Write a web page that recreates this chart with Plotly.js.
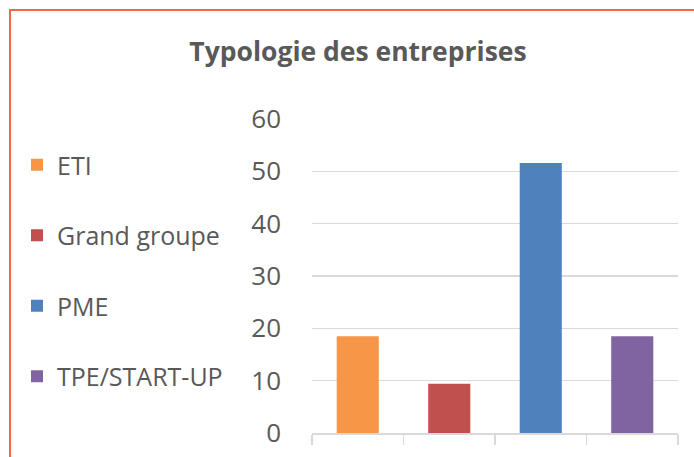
<!DOCTYPE html>
<html>
<head>
<meta charset="utf-8">
<script src="https://cdn.plot.ly/plotly-3.0.1.min.js"></script>
<style>
  html, body { margin: 0; padding: 0; background: #fff; overflow: hidden; }
  #wrap { position: relative; width: 694px; height: 457px; overflow: hidden; }
  #chart { position: absolute; left: 0; top: 0; width: 694px; height: 457px; }
  #frame { position: absolute; left: 9px; top: 9px; width: 900px; height: 900px;
           border-left: 2px solid #ee6b3b; border-top: 2px solid #ee6b3b; pointer-events: none; }
</style>
</head>
<body>
<div id="wrap">
  <div id="chart"></div>
  <div id="frame"></div>
</div>
<script>
const categories = ["ETI", "Grand groupe", "PME", "TPE/START-UP"];
const values = [18.5, 9.4, 51.6, 18.5];
const colors = ["#F79646", "#C0504D", "#4F81BD", "#8064A2"];
const yTicks = [0, 10, 20, 30, 40, 50, 60];

const traces = categories.map((c, i) => ({
  type: "bar",
  name: c,
  x: [c],
  y: [values[i]],
  marker: { color: colors[i], line: { width: 0 } },
  legendgroup: "g" + i,
  hoverinfo: "name+y"
}));

const layout = {
  width: 694,
  height: 457,
  margin: { l: 312, r: 16, t: 119, b: 24, pad: 0 },
  paper_bgcolor: "#ffffff",
  plot_bgcolor: "#ffffff",
  font: { family: "Open Sans, sans-serif", color: "#595959" },
  title: {
    text: "<b>Typologie des entreprises</b>",
    font: { family: "Open Sans, sans-serif", size: 26.5, color: "#595959" },
    x: 358 / 694, xanchor: "center", xref: "container",
    y: 1 - 52 / 457, yanchor: "middle", yref: "container"
  },
  barmode: "overlay",
  bargap: 0.54,
  showlegend: true,
  legend: {
    x: (17 - 312) / 366, xanchor: "left",
    y: 1 - (142 - 119) / 314, yanchor: "top",
    font: { size: 25, color: "#595959", family: "Open Sans, sans-serif" },
    tracegroupgap: 35,
    traceorder: "grouped",
    bgcolor: "rgba(0,0,0,0)"
  },
  xaxis: {
    type: "category",
    categoryorder: "array",
    categoryarray: categories,
    showticklabels: false,
    showgrid: false,
    zeroline: false,
    showline: true,
    linecolor: "#d9d9d9",
    linewidth: 1.5,
    ticks: "outside",
    tickson: "boundaries",
    ticklen: 10,
    tickwidth: 1.5,
    tickcolor: "#d9d9d9"
  },
  yaxis: {
    range: [0, 60],
    tickvals: yTicks,
    ticktext: yTicks.map(String),
    showgrid: true,
    gridcolor: "#d9d9d9",
    gridwidth: 1.5,
    zeroline: false,
    showline: false,
    ticks: "",
    ticklabelstandoff: 30,
    tickfont: { size: 26, color: "#595959", family: "Open Sans, sans-serif" }
  }
};

Plotly.newPlot("chart", traces, layout, { displayModeBar: false, staticPlot: true });
</script>
</body>
</html>
